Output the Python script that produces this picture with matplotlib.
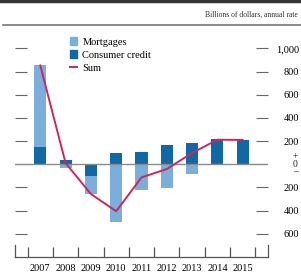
import numpy as np
import matplotlib
matplotlib.use("Agg")
import matplotlib.pyplot as plt
from matplotlib.lines import Line2D
from matplotlib.patches import Patch

plt.rcParams['font.family'] = ['Liberation Serif', 'DejaVu Serif']

years = [2007, 2008, 2009, 2010, 2011, 2012, 2013, 2014, 2015]
consumer = [152, 37, -100, 95, 109, 166, 181, 215, 212]
mortgages = [700, -29, -156, -500, -222, -207, -84, 0, 0]
total = [852, 10, -256, -405, -113, -41, 97, 212, 210]

light = '#7aaedb'
dark = '#0e69a6'
red = '#d2245a'
grey = '#555555'

fig = plt.figure(figsize=(3.01, 2.75), dpi=100)
ax = fig.add_axes([15 / 301, 18.3 / 275, 253 / 301, 226.7 / 275])
ylo, yhi = -797, 1158
ax.set_ylim(ylo, yhi)
ax.set_xlim(2006, 2016)

x = np.array(years)
cons = np.array(consumer)
mort = np.array(mortgages)
# mortgages stack on top of consumer credit when same sign, else from zero
base = np.where(np.sign(mort) == np.sign(cons), cons, 0)
ax.bar(x, cons, width=0.48, color=dark, zorder=2)
ax.bar(x, mort, width=0.48, bottom=base, color=light, zorder=2)
ax.plot(x, total, color=red, lw=1.4, zorder=4)
ax.axhline(0, color='#8a8a8a', lw=1.0, zorder=3)

ax.spines['top'].set_visible(False)
for s in ['left', 'right']:
    ax.spines[s].set_bounds(ylo, ylo + 100)
    ax.spines[s].set_color(grey)
    ax.spines[s].set_linewidth(0.9)
ax.spines['bottom'].set_color(grey)
ax.spines['bottom'].set_linewidth(0.9)

yt = [-600, -400, -200, 200, 400, 600, 800, 1000]
ax.set_yticks(yt)
ax.tick_params(axis='y', which='major', direction='in', length=8.5, width=0.8,
               color='#666666', left=True, right=True, labelleft=False, labelright=True,
               labelsize=7.5, pad=22.5)
ax.set_yticklabels(['600', '400', '200', '200', '400', '600', '800', '1,000'])
for lab in ax.get_yticklabels():
    lab.set_horizontalalignment('right')
ax.text(1.117, 0, '+\n0\n\u2013', transform=ax.get_yaxis_transform(), ha='right',
        va='center', fontsize=7, linespacing=0.85, color='#222222')

ax.set_xticks(years)
ax.set_xticklabels([str(y) for y in years])
ax.set_xticks(np.arange(2006.5, 2016, 1), minor=True)
ax.tick_params(axis='x', which='major', length=0, labelsize=7.5, pad=5)
ax.tick_params(axis='x', which='minor', direction='in', length=7, width=0.9, color=grey)

handles = [Patch(color=light), Patch(color=dark), Line2D([0], [0], color=red, lw=1.4)]
ax.legend(handles, ['Mortgages', 'Consumer credit', 'Sum'], loc='upper left',
          bbox_to_anchor=(70 / 301, 1 - 37 / 275), bbox_transform=fig.transFigure,
          frameon=False, fontsize=7.5, handlelength=0.7, handleheight=0.8,
          handletextpad=0.5, labelspacing=0.35, borderpad=0, borderaxespad=0)

fig.add_artist(Line2D([0, 1], [1 - 1 / 275, 1 - 1 / 275], color='#333333', lw=2.5))
fig.add_artist(Line2D([0.01, 1], [1 - 25 / 275, 1 - 25 / 275], color='#777777', lw=1.2))
fig.text(298 / 301, 1 - 15 / 275, 'Billions of dollars, annual rate', ha='right',
         va='center', fontsize=5.5, color='#333333')

fig.savefig('out.png', dpi=100)
